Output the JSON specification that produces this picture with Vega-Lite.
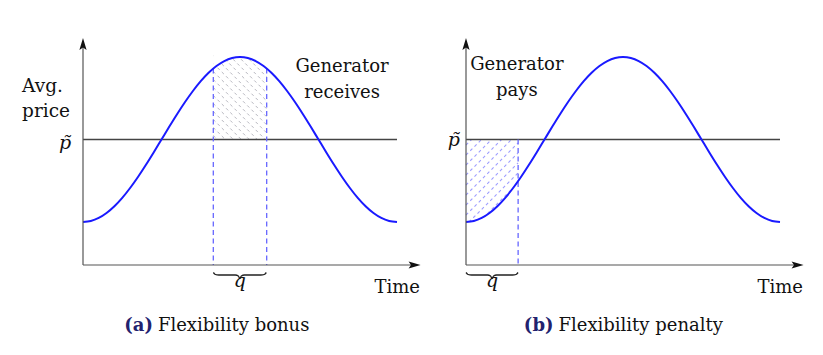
{
  "$schema": "https://vega.github.io/schema/vega-lite/v6.json",
  "padding": 0,
  "spacing": 0,
  "background": "white",
  "config": {"view": {"stroke": null}},
  "datasets": {
    "curve": [
      {"t": 0, "v": 43.0}, {"t": 0.025, "v": 44.02}, {"t": 0.05, "v": 47.04}, {"t": 0.075, "v": 51.99},
      {"t": 0.1, "v": 58.76}, {"t": 0.125, "v": 67.16}, {"t": 0.15, "v": 77.01}, {"t": 0.175, "v": 88.05},
      {"t": 0.2, "v": 100.01}, {"t": 0.225, "v": 112.59}, {"t": 0.25, "v": 125.5}, {"t": 0.275, "v": 138.41},
      {"t": 0.3, "v": 150.99}, {"t": 0.325, "v": 162.95}, {"t": 0.35, "v": 173.99}, {"t": 0.375, "v": 183.84},
      {"t": 0.4, "v": 192.24}, {"t": 0.425, "v": 199.01}, {"t": 0.45, "v": 203.96}, {"t": 0.475, "v": 206.98},
      {"t": 0.5, "v": 208.0}, {"t": 0.525, "v": 206.98}, {"t": 0.55, "v": 203.96}, {"t": 0.575, "v": 199.01},
      {"t": 0.6, "v": 192.24}, {"t": 0.625, "v": 183.84}, {"t": 0.65, "v": 173.99}, {"t": 0.675, "v": 162.95},
      {"t": 0.7, "v": 150.99}, {"t": 0.725, "v": 138.41}, {"t": 0.75, "v": 125.5}, {"t": 0.775, "v": 112.59},
      {"t": 0.8, "v": 100.01}, {"t": 0.825, "v": 88.05}, {"t": 0.85, "v": 77.01}, {"t": 0.875, "v": 67.16},
      {"t": 0.9, "v": 58.76}, {"t": 0.925, "v": 51.99}, {"t": 0.95, "v": 47.04}, {"t": 0.975, "v": 44.02},
      {"t": 1.0, "v": 43.0}
    ],
    "axes": [
      {"t": 0, "v": 0, "t2": 1.056, "v2": 0},
      {"t": 0, "v": 0, "t2": 0, "v2": 221}
    ],
    "pline": [{"t": 0, "t2": 1, "v": 125.5}],
    "arrowX": [{"t": 1.056, "v": 0}],
    "arrowY": [{"t": 0, "v": 221}]
  },
  "hconcat": [
    {
      "width": 425,
      "height": 355,
      "encoding": {
        "x": {"field": "t", "type": "quantitative", "scale": {"domain": [-0.26433, 1.08917], "nice": false, "zero": false}, "axis": null},
        "y": {"field": "v", "type": "quantitative", "scale": {"domain": [-90, 265], "nice": false, "zero": false}, "axis": null}
      },
      "layer": [
        {
          "data": {"values": [
            {"t": 0.415, "v": 129.5, "t2": 0.4277, "v2": 125.5},
            {"t": 0.415, "v": 137.5, "t2": 0.4532, "v2": 125.5},
            {"t": 0.415, "v": 145.5, "t2": 0.4787, "v2": 125.5},
            {"t": 0.415, "v": 153.5, "t2": 0.5042, "v2": 125.5},
            {"t": 0.415, "v": 161.5, "t2": 0.5296, "v2": 125.5},
            {"t": 0.415, "v": 169.5, "t2": 0.5551, "v2": 125.5},
            {"t": 0.415, "v": 177.5, "t2": 0.5806, "v2": 125.5},
            {"t": 0.415, "v": 185.5, "t2": 0.585, "v2": 132.1},
            {"t": 0.415, "v": 193.5, "t2": 0.585, "v2": 140.1},
            {"t": 0.415, "v": 201.5, "t2": 0.585, "v2": 148.1},
            {"t": 0.415, "v": 209.5, "t2": 0.585, "v2": 156.1},
            {"t": 0.4389, "v": 210, "t2": 0.585, "v2": 164.1},
            {"t": 0.4644, "v": 210, "t2": 0.585, "v2": 172.1},
            {"t": 0.4898, "v": 210, "t2": 0.585, "v2": 180.1},
            {"t": 0.5153, "v": 210, "t2": 0.585, "v2": 188.1},
            {"t": 0.5408, "v": 210, "t2": 0.585, "v2": 196.1}
          ]},
          "mark": {"type": "rule", "stroke": "#b8b8c0", "strokeWidth": 1, "strokeDash": [3, 3]},
          "encoding": {"x2": {"field": "t2"}, "y2": {"field": "v2"}}
        },
        {
          "data": {"values": [
            {"t": 0.415, "v": 196.51, "v2": 212}, {"t": 0.425, "v": 199.01, "v2": 212},
            {"t": 0.45, "v": 203.96, "v2": 212}, {"t": 0.475, "v": 206.98, "v2": 212},
            {"t": 0.5, "v": 208.0, "v2": 212}, {"t": 0.525, "v": 206.98, "v2": 212},
            {"t": 0.55, "v": 203.96, "v2": 212}, {"t": 0.575, "v": 199.01, "v2": 212},
            {"t": 0.585, "v": 196.51, "v2": 212}
          ]},
          "mark": {"type": "area", "fill": "white", "opacity": 1, "interpolate": "monotone"},
          "encoding": {"y2": {"field": "v2"}}
        },
        {
          "data": {"name": "pline"},
          "mark": {"type": "rule", "stroke": "#444444", "strokeWidth": 1.3},
          "encoding": {"x2": {"field": "t2"}}
        },
        {
          "data": {"values": [{"t": 0.415, "v": 196.5, "v2": 0}, {"t": 0.585, "v": 196.5, "v2": 0}]},
          "mark": {"type": "rule", "stroke": "#6666ff", "strokeWidth": 1.3, "strokeDash": [5, 3.5]},
          "encoding": {"y2": {"field": "v2"}}
        },
        {
          "data": {"name": "curve"},
          "mark": {"type": "line", "stroke": "#1a1aff", "strokeWidth": 2, "interpolate": "monotone"},
          "encoding": {}
        },
        {
          "data": {"name": "axes"},
          "mark": {"type": "rule", "stroke": "#555555", "strokeWidth": 1.2},
          "encoding": {"x2": {"field": "t2"}, "y2": {"field": "v2"}}
        },
        {
          "data": {"name": "arrowX"},
          "mark": {"type": "point", "shape": "M 1 0 L -1 -0.6 L -0.6 0 L -1 0.6 Z", "size": 144, "filled": true, "fill": "#111111", "strokeWidth": 0, "opacity": 1},
          "encoding": {}
        },
        {
          "data": {"name": "arrowY"},
          "mark": {"type": "point", "shape": "M 0 -1 L -0.6 1 L 0 0.6 L 0.6 1 Z", "size": 144, "filled": true, "fill": "#111111", "strokeWidth": 0, "opacity": 1},
          "encoding": {}
        },
        {
          "data": {"values": [
            {"t": 0.4151, "v": -7.5}, {"t": 0.4215, "v": -9.5}, {"t": 0.4326, "v": -10}, {"t": 0.4852, "v": -10},
            {"t": 0.4947, "v": -11}, {"t": 0.4995, "v": -13.5}, {"t": 0.5043, "v": -11}, {"t": 0.5138, "v": -10},
            {"t": 0.5664, "v": -10}, {"t": 0.5775, "v": -9.5}, {"t": 0.5839, "v": -7.5}
          ]},
          "mark": {"type": "line", "stroke": "#222222", "strokeWidth": 1.3, "interpolate": "monotone"},
          "encoding": {}
        },
        {
          "data": {"values": [{"t": -0.194, "v": 173.3, "label": "Avg."}, {"t": -0.194, "v": 148.5, "label": "price"}]},
          "mark": {"type": "text", "align": "left", "baseline": "alphabetic", "font": "DejaVu Serif", "fontSize": 18.5, "fill": "#111111"},
          "encoding": {"text": {"field": "label"}}
        },
        {
          "data": {"values": [{"t": 0.825, "v": 193.3, "label": "Generator"}, {"t": 0.825, "v": 166.7, "label": "receives"}]},
          "mark": {"type": "text", "align": "center", "baseline": "alphabetic", "font": "DejaVu Serif", "fontSize": 18, "fill": "#111111"},
          "encoding": {"text": {"field": "label"}}
        },
        {
          "data": {"values": [{"t": -0.038, "v": 116, "label": "p\u0303"}]},
          "mark": {"type": "text", "align": "right", "baseline": "alphabetic", "font": "DejaVu Serif", "fontStyle": "italic", "fontSize": 19, "fill": "#111111"},
          "encoding": {"text": {"field": "label"}}
        },
        {
          "data": {"values": [{"t": 0.4995, "v": -22, "label": "q"}]},
          "mark": {"type": "text", "align": "center", "baseline": "alphabetic", "font": "DejaVu Serif", "fontStyle": "italic", "fontSize": 19, "fill": "#111111"},
          "encoding": {"text": {"field": "label"}}
        },
        {
          "data": {"values": [{"t": 1.073, "v": -28, "label": "Time"}]},
          "mark": {"type": "text", "align": "right", "baseline": "alphabetic", "font": "DejaVu Serif", "fontSize": 18, "fill": "#111111"},
          "encoding": {"text": {"field": "label"}}
        },
        {
          "data": {"values": [{"t": 0.229, "v": -66, "label": "(a)"}]},
          "mark": {"type": "text", "align": "right", "baseline": "alphabetic", "dx": -2, "font": "DejaVu Serif", "fontWeight": "bold", "fontSize": 18, "fill": "#22226e"},
          "encoding": {"text": {"field": "label"}}
        },
        {
          "data": {"values": [{"t": 0.229, "v": -66, "label": "Flexibility bonus"}]},
          "mark": {"type": "text", "align": "left", "baseline": "alphabetic", "dx": 3, "font": "DejaVu Serif", "fontSize": 18, "fill": "#111111"},
          "encoding": {"text": {"field": "label"}}
        }
      ]
    },
    {
      "width": 398,
      "height": 355,
      "encoding": {
        "x": {"field": "t", "type": "quantitative", "scale": {"domain": [-0.13057, 1.13694], "nice": false, "zero": false}, "axis": null},
        "y": {"field": "v", "type": "quantitative", "scale": {"domain": [-90, 265], "nice": false, "zero": false}, "axis": null}
      },
      "layer": [
        {
          "data": {"values": [
            {"t": 0, "v": 120, "t2": 0.0175, "v2": 125.5},
            {"t": 0, "v": 110, "t2": 0.0494, "v2": 125.5},
            {"t": 0, "v": 100, "t2": 0.0812, "v2": 125.5},
            {"t": 0, "v": 90, "t2": 0.1131, "v2": 125.5},
            {"t": 0, "v": 80, "t2": 0.1449, "v2": 125.5},
            {"t": 0, "v": 70, "t2": 0.166, "v2": 122.1},
            {"t": 0, "v": 60, "t2": 0.166, "v2": 112.1},
            {"t": 0, "v": 50, "t2": 0.166, "v2": 102.1},
            {"t": 0.0096, "v": 43, "t2": 0.166, "v2": 92.1},
            {"t": 0.0414, "v": 43, "t2": 0.166, "v2": 82.1}
          ]},
          "mark": {"type": "rule", "stroke": "#9d9dff", "strokeWidth": 1.1, "strokeDash": [3, 3]},
          "encoding": {"x2": {"field": "t2"}, "y2": {"field": "v2"}}
        },
        {
          "data": {"values": [
            {"t": 0, "v": 43.0, "v2": 41}, {"t": 0.025, "v": 44.02, "v2": 41}, {"t": 0.05, "v": 47.04, "v2": 41},
            {"t": 0.075, "v": 51.99, "v2": 41}, {"t": 0.1, "v": 58.76, "v2": 41}, {"t": 0.125, "v": 67.16, "v2": 41},
            {"t": 0.15, "v": 77.01, "v2": 41}, {"t": 0.166, "v": 83.95, "v2": 41}
          ]},
          "mark": {"type": "area", "fill": "white", "opacity": 1, "interpolate": "monotone"},
          "encoding": {"y2": {"field": "v2"}}
        },
        {
          "data": {"name": "pline"},
          "mark": {"type": "rule", "stroke": "#444444", "strokeWidth": 1.3},
          "encoding": {"x2": {"field": "t2"}}
        },
        {
          "data": {"values": [{"t": 0.166, "v": 125.5, "v2": 0}]},
          "mark": {"type": "rule", "stroke": "#6666ff", "strokeWidth": 1.3, "strokeDash": [5, 3.5]},
          "encoding": {"y2": {"field": "v2"}}
        },
        {
          "data": {"name": "curve"},
          "mark": {"type": "line", "stroke": "#1a1aff", "strokeWidth": 2, "interpolate": "monotone"},
          "encoding": {}
        },
        {
          "data": {"name": "axes"},
          "mark": {"type": "rule", "stroke": "#555555", "strokeWidth": 1.2},
          "encoding": {"x2": {"field": "t2"}, "y2": {"field": "v2"}}
        },
        {
          "data": {"name": "arrowX"},
          "mark": {"type": "point", "shape": "M 1 0 L -1 -0.6 L -0.6 0 L -1 0.6 Z", "size": 144, "filled": true, "fill": "#111111", "strokeWidth": 0, "opacity": 1},
          "encoding": {}
        },
        {
          "data": {"name": "arrowY"},
          "mark": {"type": "point", "shape": "M 0 -1 L -0.6 1 L 0 0.6 L 0.6 1 Z", "size": 144, "filled": true, "fill": "#111111", "strokeWidth": 0, "opacity": 1},
          "encoding": {}
        },
        {
          "data": {"values": [
            {"t": 0.0, "v": -7.5}, {"t": 0.0066, "v": -9.5}, {"t": 0.0177, "v": -10}, {"t": 0.0687, "v": -10},
            {"t": 0.0782, "v": -11}, {"t": 0.083, "v": -13.5}, {"t": 0.0878, "v": -11}, {"t": 0.0973, "v": -10},
            {"t": 0.1483, "v": -10}, {"t": 0.1594, "v": -9.5}, {"t": 0.1658, "v": -7.5}
          ]},
          "mark": {"type": "line", "stroke": "#222222", "strokeWidth": 1.3, "interpolate": "monotone"},
          "encoding": {}
        },
        {
          "data": {"values": [{"t": 0.162, "v": 195, "label": "Generator"}, {"t": 0.162, "v": 169, "label": "pays"}]},
          "mark": {"type": "text", "align": "center", "baseline": "alphabetic", "font": "DejaVu Serif", "fontSize": 18, "fill": "#111111"},
          "encoding": {"text": {"field": "label"}}
        },
        {
          "data": {"values": [{"t": -0.019, "v": 119, "label": "p\u0303"}]},
          "mark": {"type": "text", "align": "right", "baseline": "alphabetic", "font": "DejaVu Serif", "fontStyle": "italic", "fontSize": 19, "fill": "#111111"},
          "encoding": {"text": {"field": "label"}}
        },
        {
          "data": {"values": [{"t": 0.083, "v": -22, "label": "q"}]},
          "mark": {"type": "text", "align": "center", "baseline": "alphabetic", "font": "DejaVu Serif", "fontStyle": "italic", "fontSize": 19, "fill": "#111111"},
          "encoding": {"text": {"field": "label"}}
        },
        {
          "data": {"values": [{"t": 1.073, "v": -28, "label": "Time"}]},
          "mark": {"type": "text", "align": "right", "baseline": "alphabetic", "font": "DejaVu Serif", "fontSize": 18, "fill": "#111111"},
          "encoding": {"text": {"field": "label"}}
        },
        {
          "data": {"values": [{"t": 0.285, "v": -66, "label": "(b)"}]},
          "mark": {"type": "text", "align": "right", "baseline": "alphabetic", "dx": -2, "font": "DejaVu Serif", "fontWeight": "bold", "fontSize": 18, "fill": "#22226e"},
          "encoding": {"text": {"field": "label"}}
        },
        {
          "data": {"values": [{"t": 0.285, "v": -66, "label": "Flexibility penalty"}]},
          "mark": {"type": "text", "align": "left", "baseline": "alphabetic", "dx": 3, "font": "DejaVu Serif", "fontSize": 18, "fill": "#111111"},
          "encoding": {"text": {"field": "label"}}
        }
      ]
    }
  ]
}
